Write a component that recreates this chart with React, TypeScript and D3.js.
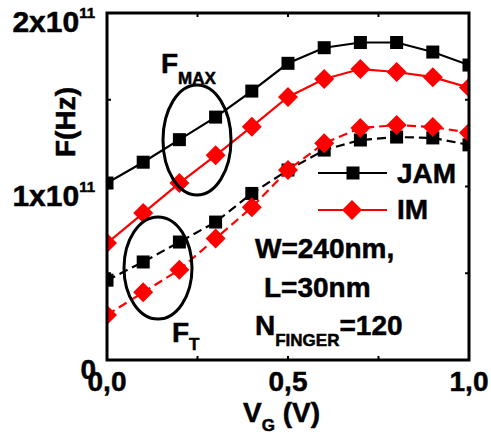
import React from "react";
import * as d3 from "d3";

const vg = [0, 0.1, 0.2, 0.3, 0.4, 0.5, 0.6, 0.7, 0.8, 0.9, 1.0];
const jamFmax = [1.02, 1.14, 1.27, 1.4, 1.55, 1.71, 1.8, 1.83, 1.83, 1.775, 1.7];
const imFmax = [0.674, 0.847, 1.02, 1.18, 1.345, 1.516, 1.62, 1.677, 1.66, 1.63, 1.57];
const jamFt = [0.46, 0.565, 0.68, 0.795, 0.96, 1.095, 1.21, 1.268, 1.285, 1.28, 1.24];
const imFt = [0.26, 0.39, 0.52, 0.7, 0.88, 1.095, 1.25, 1.337, 1.354, 1.343, 1.31];
const xTicks = [0, 0.5, 1.0];
const xTickLabels = ["0,0", "0,5", "1,0"];
const xMinor = [0.25, 0.75];
const yTicks = [0, 1, 2];
const yMinor = [0.5, 1.5];

const L = 107, R = 469, T = 13, B = 360;
const FONT = "'Liberation Sans', Arial, sans-serif";

export default function App() {
  const x = d3.scaleLinear().domain([0, 1]).range([L, R]);
  const y = d3.scaleLinear().domain([0, 2]).range([B, T]);
  const line = d3.line<number>().x((_, i) => x(vg[i])).y((d) => y(d));

  const series = [
    { data: jamFmax, color: "#000", dash: undefined, marker: "sq" },
    { data: imFmax, color: "#ff0000", dash: undefined, marker: "dm" },
    { data: jamFt, color: "#000", dash: "9 5", marker: "sq" },
    { data: imFt, color: "#ff0000", dash: "9 5", marker: "dm" },
  ];

  const marker = (type: string, cx: number, cy: number, color: string, key: any) =>
    type === "sq" ? (
      <rect key={key} x={cx - 6.5} y={cy - 6.5} width={13} height={13} fill={color} />
    ) : (
      <path key={key} d={`M${cx},${cy - 10}L${cx + 10},${cy}L${cx},${cy + 10}L${cx - 10},${cy}Z`} fill={color} />
    );

  const FS = 28;

  return (
    <svg width={491} height={434} style={{ position: "absolute", left: 0, top: 0, background: "#fff" }} fontFamily={FONT} fontWeight="bold">
      <defs>
        <clipPath id="plot">
          <rect x={L} y={T} width={R - L} height={B - T} />
        </clipPath>
      </defs>
      <g clipPath="url(#plot)">
        {series.map((s, si) => (
          <g key={si}>
            <path d={line(s.data) || ""} fill="none" stroke={s.color} strokeWidth={2.2} strokeDasharray={s.dash} />
            {s.data.map((d, i) => marker(s.marker, x(vg[i]), y(d), s.color, i))}
          </g>
        ))}
      </g>
      {/* frame */}
      <rect x={L} y={T} width={R - L} height={B - T} fill="none" stroke="#000" strokeWidth={3} />
      {/* ticks */}
      {[...xTicks, ...xMinor].map((t, i) => (
        <g key={"xt" + i}>
          <line x1={x(t)} x2={x(t)} y1={B} y2={B - 4} stroke="#000" strokeWidth={2} />
          <line x1={x(t)} x2={x(t)} y1={T} y2={T + 4} stroke="#000" strokeWidth={2} />
        </g>
      ))}
      {[...yTicks, ...yMinor].map((t, i) => (
        <g key={"yt" + i}>
          <line x1={L} x2={L + 4} y1={y(t)} y2={y(t)} stroke="#000" strokeWidth={2} />
          <line x1={R} x2={R - 4} y1={y(t)} y2={y(t)} stroke="#000" strokeWidth={2} />
        </g>
      ))}
      <g stroke="#000" strokeWidth={0.5}>
        {/* x tick labels */}
        {xTicks.map((t, i) => (
          <text key={"xl" + i} x={x(t)} y={391} fontSize={FS} textAnchor="middle">
            {xTickLabels[i]}
          </text>
        ))}
        {/* y tick labels */}
        {yTicks.map((t) =>
          t === 0 ? (
            <text key="y0" x={96} y={y(0) + 19} fontSize={FS} textAnchor="end">0</text>
          ) : (
            <text key={"yl" + t} x={95} y={y(t) + 19} fontSize={30} textAnchor="end">
              {t}x10<tspan fontSize={15} dy={-14}>11</tspan>
            </text>
          )
        )}
        {/* axis titles */}
        <text transform="translate(75,122) rotate(-90)" fontSize={FS} textAnchor="middle">F(Hz)</text>
        <text x={243} y={422} fontSize={FS}>
          V<tspan fontSize={17} dy={9}>G</tspan><tspan dy={-9}> (V)</tspan>
        </text>
        {/* legend */}
        <text x={397} y={183} fontSize={FS}>JAM</text>
        <text x={397} y={219} fontSize={FS}>IM</text>
        {/* annotations */}
        <text x={255} y={258} fontSize={FS}>W=240nm,</text>
        <text x={264} y={297} fontSize={FS}>L=30nm</text>
        <text x={255} y={335} fontSize={FS}>
          N<tspan fontSize={17} dy={11}>FINGER</tspan><tspan dy={-11}>=120</tspan>
        </text>
        <text x={161} y={73} fontSize={FS}>
          F<tspan fontSize={17} dy={11}>MAX</tspan>
        </text>
        <text x={172} y={342} fontSize={FS}>
          F<tspan fontSize={17} dy={8}>T</tspan>
        </text>
      </g>
      <line x1={318} x2={387} y1={173} y2={173} stroke="#000" strokeWidth={2.2} />
      {marker("sq", 353, 173, "#000", "l1")}
      <line x1={318} x2={387} y1={210} y2={210} stroke="#ff0000" strokeWidth={2.2} />
      {marker("dm", 352, 210, "#ff0000", "l2")}
      <ellipse cx={197} cy={140} rx={34} ry={55} fill="none" stroke="#000" strokeWidth={3} />
      <ellipse cx={158} cy={268} rx={34} ry={51} fill="none" stroke="#000" strokeWidth={3} />
    </svg>
  );
}
